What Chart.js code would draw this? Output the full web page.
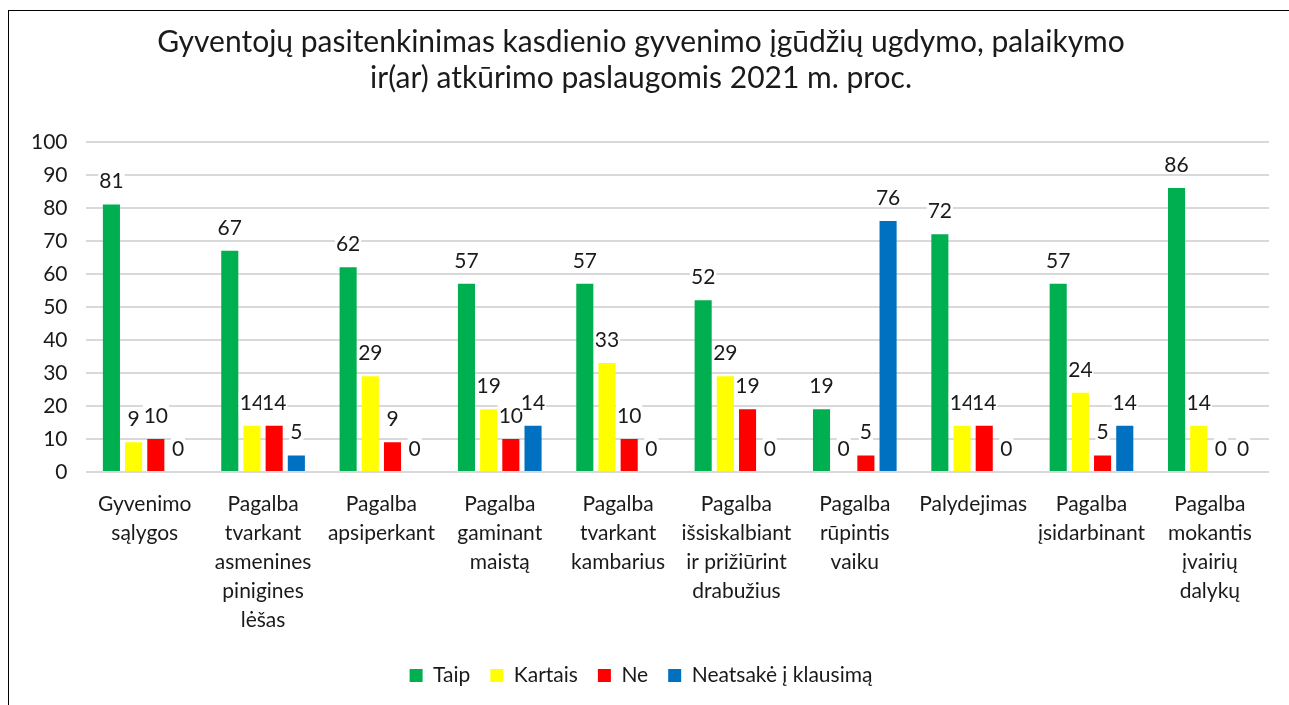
<!DOCTYPE html>
<html>
<head>
<meta charset="utf-8">
<script src="https://cdn.jsdelivr.net/npm/chart.js@4.4.0/dist/chart.umd.min.js"></script>
<style>
  html, body { margin: 0; padding: 0; background: #fff; }
  #wrap { position: relative; width: 1289px; height: 705px; overflow: hidden; }
  #frame { position: absolute; left: 8px; top: 10px; width: 1400px; height: 800px; border: 1.5px solid #000; box-sizing: border-box; pointer-events: none; }
  canvas { position: absolute; left: 0; top: 0; }
</style>
</head>
<body>
<div id="wrap">
  <canvas id="chart" width="1289" height="705"></canvas>
  <div id="frame"></div>
</div>
<script>
// categories (multi-line labels like the original)
const categories = [
  ['Gyvenimo', 'sąlygos'],
  ['Pagalba', 'tvarkant', 'asmenines', 'pinigines', 'lėšas'],
  ['Pagalba', 'apsiperkant'],
  ['Pagalba', 'gaminant', 'maistą'],
  ['Pagalba', 'tvarkant', 'kambarius'],
  ['Pagalba', 'išsiskalbiant', 'ir prižiūrint', 'drabužius'],
  ['Pagalba', 'rūpintis', 'vaiku'],
  ['Palydejimas'],
  ['Pagalba', 'įsidarbinant'],
  ['Pagalba', 'mokantis', 'įvairių', 'dalykų']
]

const taip = [81, 67, 62, 57, 57, 52, 19, 72, 57, 86]
const kartais = [9, 14, 29, 19, 33, 29, 0, 14, 24, 14]
const ne = [10, 14, 9, 10, 10, 19, 5, 14, 5, 0]
const neatsake = [0, 5, 0, 14, 0, 0, 76, 0, 14, 0]

const FONT = 'Lato, "Open Sans", sans-serif'
const TXT = 21

// draw value labels on top of every bar, small white box behind like Excel
const valueLabels = {
    id: 'valueLabels',
    afterDatasetsDraw(chart) {
        const ctx = chart.ctx
        ctx.save()
        ctx.font = TXT + 'px ' + FONT
        ctx.textAlign = 'center'
        ctx.textBaseline = 'middle'
        chart.data.datasets.forEach((ds, i) => {
            const meta = chart.getDatasetMeta(i)
            meta.data.forEach((bar, j) => {
                const txt = String(ds.data[j])
                const y = bar.y - 24
                const w = ctx.measureText(txt).width
                ctx.fillStyle = '#fff'
                ctx.fillRect(bar.x - w / 2 - 1, y - 10, w + 2, 20)
                ctx.fillStyle = '#1a1a1a'
                ctx.fillText(txt, bar.x, y + 1)
            })
        })
        ctx.restore()
    }
}

const ctx = document.getElementById('chart').getContext('2d')
new Chart(ctx, {
    type: 'bar',
    data: {
        labels: categories,
        datasets: [
            { label: 'Taip', data: taip, backgroundColor: '#00b050' },
            { label: 'Kartais', data: kartais, backgroundColor: '#ffff00' },
            { label: 'Ne', data: ne, backgroundColor: '#ff0000' },
            { label: 'Neatsakė į klausimą', data: neatsake, backgroundColor: '#0070c0' }
        ]
    },
    options: {
        responsive: false,
        animation: false,
        layout: { padding: { left: 13, right: 20, top: 19, bottom: 9 } },
        datasets: {
            bar: { categoryPercentage: 0.75, barPercentage: 0.77 }
        },
        plugins: {
            title: {
                display: true,
                text: ['Gyventojų pasitenkinimas kasdienio gyvenimo įgūdžių ugdymo, palaikymo', 'ir(ar) atkūrimo paslaugomis 2021 m. proc.'],
                color: '#1a1a1a',
                font: { family: FONT, size: 30, weight: 'normal', lineHeight: 1.18 },
                padding: { top: 6, bottom: 46 }
            },
            legend: {
                position: 'bottom',
                labels: {
                    color: '#1a1a1a',
                    font: { family: FONT, size: TXT },
                    boxWidth: 13,
                    boxHeight: 13,
                    padding: 20
                }
            },
            tooltip: { enabled: false }
        },
        scales: {
            x: {
                grid: { display: false },
                border: { display: false },
                ticks: {
                    color: '#1a1a1a',
                    font: { family: FONT, size: TXT, lineHeight: 1.38 },
                    maxRotation: 0,
                    autoSkip: false,
                    padding: 10
                }
            },
            y: {
                min: 0,
                max: 100,
                ticks: {
                    stepSize: 10,
                    color: '#1a1a1a',
                    font: { family: FONT, size: TXT },
                    padding: 18
                },
                grid: { color: '#d9d9d9', lineWidth: 2, drawTicks: false },
                border: { display: false }
            }
        }
    },
    plugins: [valueLabels]
})
</script>
</body>
</html>
